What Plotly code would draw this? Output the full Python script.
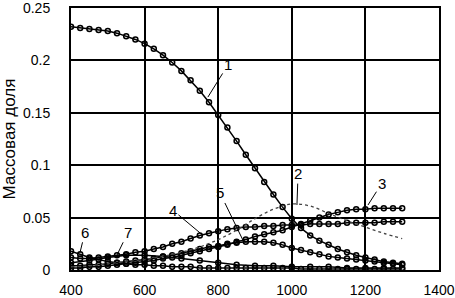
import plotly.graph_objects as go

x25 = list(range(400, 1301, 25))
x50 = list(range(400, 1301, 50))

s1 = [.232, .231, .230, .229, .228, .226, .223, .220, .216, .211, .205, .198, .190, .181, .171, .160,
      .148, .136, .123, .110, .097, .084, .072, .060, .049, .040, .033, .028, .024, .020, .017, .014,
      .012, .010, .008, .007, .006]
s2 = [.003, .004, .006, .008, .010, .013, .017, .022, .029, .038, .049, .058, .063, .061, .054, .047,
      .041, .035, .030]
s3 = [.002, .002, .003, .003, .004, .005, .006, .007, .008, .009, .011, .012, .014, .016, .018, .020,
      .022, .024, .027, .029, .032, .034, .036, .038, .041, .044, .047, .050, .053, .055, .057, .058,
      .058, .059, .059, .059, .059]
s4 = [.012, .011, .011, .012, .013, .014, .015, .017, .018, .020, .022, .025, .027, .030, .033, .035,
      .037, .039, .040, .041, .041, .042, .042, .043, .043, .043, .044, .044, .044, .044, .045, .045,
      .045, .045, .046, .046, .046]
s5 = [.004, .004, .005, .005, .006, .007, .008, .009, .010, .011, .013, .014, .016, .018, .020, .022,
      .023, .025, .026, .027, .027, .027, .026, .024, .021, .019, .017, .015, .013, .012, .011, .010,
      .009, .008, .007, .006, .005]
s6 = [.018, .015, .012, .010, .008, .007, .006, .005, .005, .004, .004, .003, .003, .003, .002, .002,
      .002, .002, .002, .002, .002, .002, .002, .002, .002, .001, .001, .001, .001, .001, .001, .001,
      .001, .001, .001, .001, .001]
s7 = [.007, .009, .012, .014, .014, .013, .011, .009, .007, .005, .004, .004, .003, .003, .003, .002,
      .002, .002, .002]

labels = ["1", "2", "3", "4", "5", "6", "7"]
label_xy = [(827, 0.196), (1017, 0.092), (1245, 0.083), (677, 0.057), (805, 0.0735), (438, 0.036), (555, 0.036)]
point_xy = [(772, 0.165), (1014, 0.062), (1207, 0.062), (751, 0.0353), (867, 0.0286), (424, 0.016), (525, 0.0143)]

FONT = "Liberation Sans, Arial, sans-serif"

fig = go.Figure()
marker_series = [(x25, s1), (x25, s3), (x25, s4), (x25, s5), (x25, s6), (x50, s7)]
for xs, ys in marker_series:
    fig.add_trace(go.Scatter(x=xs, y=ys, mode="lines+markers",
                             line=dict(color="black", width=1.5),
                             marker=dict(symbol="circle-open", size=5, color="black", line=dict(width=1.5)),
                             showlegend=False, hoverinfo="skip"))
fig.add_trace(go.Scatter(x=x50, y=s2, mode="lines", line=dict(color="#444", width=1.3, dash="dot", shape="spline"),
                         showlegend=False, hoverinfo="skip"))

for t, (lx, ly), (px, py) in zip(labels, label_xy, point_xy):
    fig.add_annotation(x=px, y=py, ax=lx, ay=ly, axref="x", ayref="y", xref="x", yref="y",
                       text=t, showarrow=True, arrowhead=0, arrowwidth=1, arrowcolor="black",
                       font=dict(family=FONT, size=15, color="black"), standoff=0)

fig.update_xaxes(range=[400, 1400], tickvals=[400, 600, 800, 1000, 1200, 1400],
                 showgrid=True, gridcolor="black", gridwidth=2,
                 showline=True, linecolor="black", linewidth=2, mirror=True,
                 zeroline=False, ticks="", ticklabelstandoff=6, automargin=False,
                 ticklabeloverflow="allow",
                 tickfont=dict(family=FONT, size=14, color="black"))
fig.update_yaxes(range=[0, 0.25], tickvals=[0, 0.05, 0.1, 0.15, 0.2, 0.25],
                 ticktext=["0", "0.05", "0.1", "0.15", "0.2", "0.25"],
                 showgrid=True, gridcolor="black", gridwidth=2,
                 showline=True, linecolor="black", linewidth=2, mirror=True,
                 zeroline=False, ticks="", ticklabelstandoff=16, automargin=False,
                 ticklabeloverflow="allow",
                 tickfont=dict(family=FONT, size=14, color="black"),
                 title=dict(text="Массовая доля", font=dict(family=FONT, size=17, color="black"), standoff=3))

fig.update_layout(width=455, height=298, margin=dict(l=71, r=16, t=8, b=28),
                  plot_bgcolor="white", paper_bgcolor="white")
fig.write_html("out.html", config={"displayModeBar": False},
               post_script="document.body.style.margin='0';document.body.style.overflow='hidden';")
